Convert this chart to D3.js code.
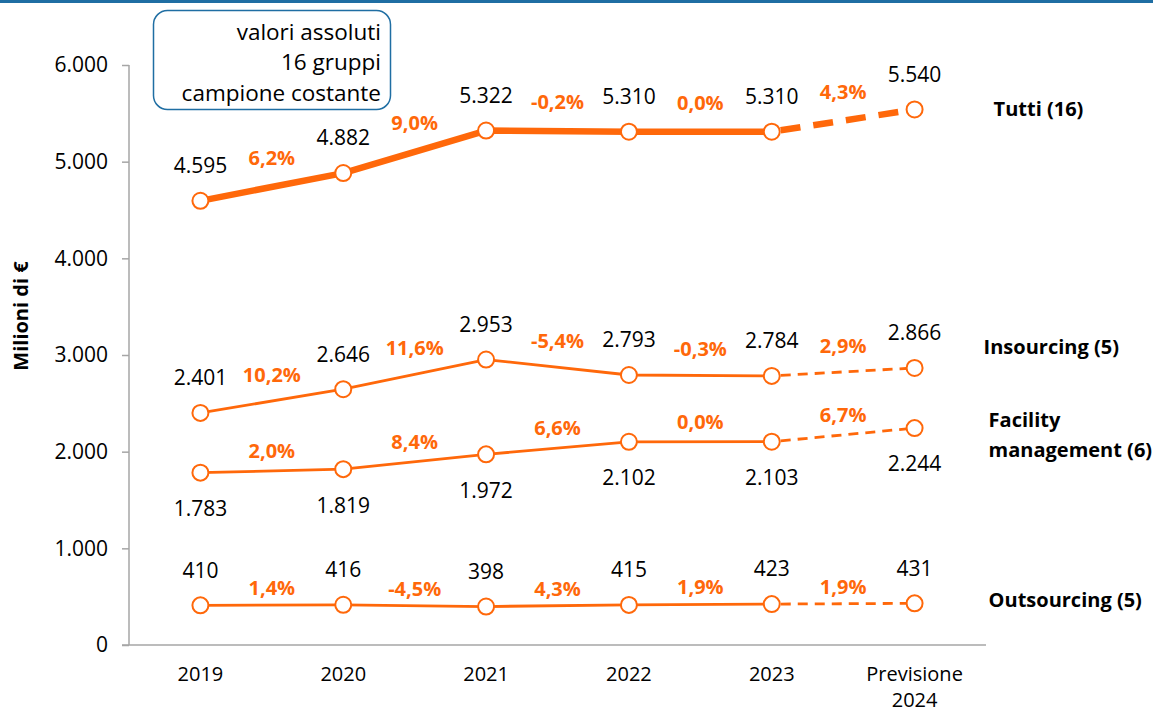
<!DOCTYPE html>
<html>
<head>
<meta charset="utf-8">
<script src="https://cdn.jsdelivr.net/npm/d3@7"></script>
<style>
  body { margin: 0; background: #fff; }
  text { font-family: 'Open Sans', 'Noto Sans', sans-serif; }
</style>
</head>
<body>
<div id="graph"></div>
<script>
// Categories on the x axis
const years = ['2019', '2020', '2021', '2022', '2023', 'Previsione 2024'];

// Values (milioni di euro)
const tutti = [4595, 4882, 5322, 5310, 5310, 5540];
const insourcing = [2401, 2646, 2953, 2793, 2784, 2866];
const facility = [1783, 1819, 1972, 2102, 2103, 2244];
const outsourcing = [410, 416, 398, 415, 423, 431];

// Year on year changes shown between the points
const tuttiPct = ['6,2%', '9,0%', '-0,2%', '0,0%', '4,3%'];
const insourcingPct = ['10,2%', '11,6%', '-5,4%', '-0,3%', '2,9%'];
const facilityPct = ['2,0%', '8,4%', '6,6%', '0,0%', '6,7%'];
const outsourcingPct = ['1,4%', '-4,5%', '4,3%', '1,9%', '1,9%'];

// Series names
const seriesNames = ['Tutti (16)', 'Insourcing (5)', 'Facility management (6)', 'Outsourcing (5)'];

// y tick values
const yTicks = [0, 1000, 2000, 3000, 4000, 5000, 6000];

const boxLines = ['valori assoluti', '16 gruppi', 'campione costante'];

const orange = '#ff680a';

const w = 1153;
const h = 712;

const svg = d3
    .select('#graph')
    .append('svg')
    .attr('width', w)
    .attr('height', h);

// top border line
svg.append('rect')
    .attr('x', 0)
    .attr('y', 0)
    .attr('width', w)
    .attr('height', 3)
    .attr('fill', '#1f6ea3');

// Scales
const xScale = d3
    .scaleBand()
    .domain(years)
    .range([129, 986]);

const yScale = d3
    .scaleLinear()
    .domain([0, 6000])
    .range([645, 65]);

const xPos = (i) => xScale(years[i]) + xScale.bandwidth() / 2;

// y axis
const yAxis = d3.axisLeft(yScale)
    .tickValues(yTicks)
    .tickSize(7)
    .tickPadding(14)
    .tickFormat((d) => d3.format(',')(d).replace(/,/g, '.'));

const gy = svg.append('g')
    .attr('transform', 'translate(129,0)')
    .call(yAxis);
gy.select('.domain').attr('stroke', '#a6a6a6').attr('stroke-width', 1.5)
    .attr('d', 'M0,' + yScale(6000) + 'V' + yScale(0));
gy.selectAll('.tick line').attr('stroke', '#a6a6a6').attr('stroke-width', 1.5);
gy.selectAll('.tick text').attr('font-size', 21).attr('fill', '#000');

// x axis
const xAxis = d3.axisBottom(xScale).tickSize(0).tickPadding(22);
const gx = svg.append('g')
    .attr('transform', 'translate(0,645)')
    .call(xAxis);
gx.select('.domain').attr('stroke', '#a6a6a6').attr('stroke-width', 1.5)
    .attr('d', 'M122,0H986');
gx.selectAll('.tick text')
    .attr('font-size', 20)
    .attr('fill', '#000')
    .text(null)
    .each(function(d) {
      const parts = d.split(' ');
      const t = d3.select(this);
      parts.forEach((p, i) => {
        t.append('tspan')
            .attr('x', 0)
            .attr('dy', i === 0 ? '0.71em' : 26)
            .text(p);
      });
    });

// y axis title
svg.append('text')
    .attr('transform', 'translate(28,316) rotate(-90)')
    .attr('text-anchor', 'middle')
    .attr('font-size', 20)
    .attr('font-weight', 'bold')
    .text('Milioni di €');

// info box
svg.append('rect')
    .attr('x', 153.5)
    .attr('y', 10.5)
    .attr('width', 237)
    .attr('height', 99)
    .attr('rx', 14)
    .attr('fill', '#fff')
    .attr('stroke', '#1f6ea3')
    .attr('stroke-width', 1.5);

svg.selectAll('.boxline')
    .data(boxLines)
    .enter()
    .append('text')
    .attr('class', 'boxline')
    .attr('x', 381)
    .attr('y', (d, i) => 32 + i * 30.5)
    .attr('dy', '0.35em')
    .attr('text-anchor', 'end')
    .attr('font-size', 22.5)
    .text((d) => d);

// Series definitions
const series = [
  {name: seriesNames[0], values: tutti, pct: tuttiPct, width: 6.5, dash: '20,13',
    valueDy: -35, pctDy: -29, nameDx: 79, nameDy: 0},
  {name: seriesNames[1], values: insourcing, pct: insourcingPct, width: 2.8, dash: '10,7',
    valueDy: -35, pctDy: -26, nameDx: 69, nameDy: -21},
  {name: seriesNames[2], values: facility, pct: facilityPct, width: 2.8, dash: '10,7',
    valueDy: 36, pctDy: -20, nameDx: 74, nameDy: -8},
  {name: seriesNames[3], values: outsourcing, pct: outsourcingPct, width: 2.8, dash: '10,7',
    valueDy: -35, pctDy: -17, nameDx: 74, nameDy: -3},
];

const line = d3.line()
    .x((d) => xPos(d.i))
    .y((d) => yScale(d.v));

series.forEach(function(s) {
  const pts = s.values.map((v, i) => ({v: v, i: i}));
  const g = svg.append('g');

  // solid part (actual data)
  g.append('path')
      .datum(pts.slice(0, 5))
      .attr('fill', 'none')
      .attr('stroke', orange)
      .attr('stroke-width', s.width)
      .attr('stroke-linejoin', 'round')
      .attr('d', line);

  // dashed part (forecast)
  g.append('path')
      .datum(pts.slice(4))
      .attr('fill', 'none')
      .attr('stroke', orange)
      .attr('stroke-width', s.width)
      .attr('stroke-dasharray', s.dash)
      .attr('stroke-dashoffset', -9)
      .attr('d', line);

  // markers
  g.selectAll('circle')
      .data(pts)
      .enter()
      .append('circle')
      .attr('cx', (d) => xPos(d.i))
      .attr('cy', (d) => yScale(d.v))
      .attr('r', 8)
      .attr('fill', '#fff')
      .attr('stroke', orange)
      .attr('stroke-width', 2);

  // value labels
  g.selectAll('.val')
      .data(pts)
      .enter()
      .append('text')
      .attr('class', 'val')
      .attr('x', (d) => xPos(d.i))
      .attr('y', (d) => yScale(d.v) + s.valueDy)
      .attr('dy', '0.35em')
      .attr('text-anchor', 'middle')
      .attr('font-size', 21)
      .text((d) => d3.format(',')(d.v).replace(/,/g, '.'));

  // percentage labels between points
  g.selectAll('.pct')
      .data(s.pct)
      .enter()
      .append('text')
      .attr('class', 'pct')
      .attr('x', (d, i) => (xPos(i) + xPos(i + 1)) / 2)
      .attr('y', (d, i) => (yScale(s.values[i]) + yScale(s.values[i + 1])) / 2 + s.pctDy)
      .attr('dy', '0.35em')
      .attr('text-anchor', 'middle')
      .attr('font-size', 20)
      .attr('font-weight', 'bold')
      .attr('fill', orange)
      .text((d) => d);

  // series name on the right
  const nameParts = s.name === seriesNames[2] ? ['Facility', 'management (6)'] : [s.name];
  const nt = g.append('text')
      .attr('x', xPos(5) + s.nameDx)
      .attr('y', yScale(s.values[5]) + s.nameDy)
      .attr('dy', '0.35em')
      .attr('font-size', 20)
      .attr('font-weight', 'bold');
  nameParts.forEach((p, i) => {
    nt.append('tspan')
        .attr('x', xPos(5) + s.nameDx)
        .attr('dy', i === 0 ? '0.35em' : 30)
        .text(p);
  });
});
</script>
</body>
</html>
